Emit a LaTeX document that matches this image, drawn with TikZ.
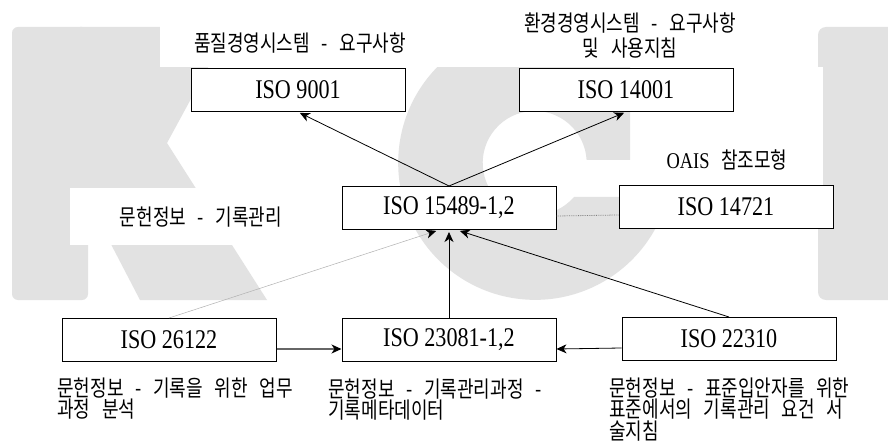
\documentclass[tikz,border=0pt]{standalone}
\usepackage{fontspec}
\setmainfont{Liberation Serif}
\newfontfamily\hangulfont[FakeStretch=0.8,WordSpace=2.9]{Noto Sans CJK KR}
\newfontfamily\latinfont[FakeStretch=0.82]{Liberation Serif}
\usetikzlibrary{arrows.meta}
\definecolor{wmark}{RGB}{226,226,226}

\tikzset{
  isobox/.style={draw, fill=white, line width=1pt, minimum width=214pt, minimum height=43pt, inner sep=0pt, font=\latinfont\fontsize{27}{27}\selectfont},
  desc/.style={inner sep=0pt, font=\hangulfont\fontsize{22.5}{22.5}\selectfont},
  mask/.style={fill=white},
}

\begin{document}
\begin{tikzpicture}[x=1pt, y=-1pt, >={Stealth[length=10pt,width=9pt,inset=3pt]}, line width=0.8pt]
\clip (0,0) rectangle (888,446);
\fill[white] (0,0) rectangle (888,446);
% KCI
\fill[wmark, rounded corners=6pt] (12,27) rectangle (88,300);
\fill[wmark] (80,27) -- (230,27) -- (167,143) -- (267,300) -- (140,300) -- (88,200) -- (80,200) -- cycle;
\fill[wmark] (630,64) arc[start angle=-46.2, end angle=-335.9, radius=137] -- (660,197) -- (574,197) arc[start angle=40.9, end angle=356.7, radius=52] -- (630,160) -- cycle;
\fill[wmark, rounded corners=8pt] (818,27) rectangle (900,300);
\fill[mask] (160,10) rectangle (440,67);
\fill[mask] (440,0) rectangle (818,67);
\fill[mask] (635,67) rectangle (823,185);
\fill[mask] (70,188) rectangle (300,245);

\node[isobox] (iso9001) at (298,90) {ISO 9001};
\node[isobox] (iso14001) at (626,90) {ISO 14001};
\node[isobox] (iso15489) at (449,208) {ISO 15489-1,2};
\node[isobox] (iso14721) at (726,207) {ISO 14721};
\node[isobox] (iso26122) at (169,340) {ISO 26122};
\node[isobox] (iso23081) at (449,340) {ISO 23081-1,2};
\node[isobox] (iso22310) at (729,339) {ISO 22310};

\node[desc] (lab9001) at (300,43) {품질경영시스템 - 요구사항};
\node[desc, align=center, font=\hangulfont\fontsize{22.5}{25}\selectfont] (lab14001) at (630,35) {환경경영시스템 - 요구사항\\및 사용지침};
\node[desc] (lab14721) at (727,160) {{\latinfont OAIS} 참조모형};
\node[desc] (lab15489) at (201,217) {문헌정보 - 기록관리};
\node[desc, align=left, anchor=north west, font=\hangulfont\fontsize{22.5}{21.5}\selectfont] (lab26122) at (57,377) {문헌정보 - 기록을 위한 업무\\과정 분석};
\node[desc, align=left, anchor=north west, font=\hangulfont\fontsize{22.5}{21.5}\selectfont] (lab23081) at (328,378) {문헌정보 - 기록관리과정 -\\기록메타데이터};
\node[desc, align=left, anchor=north west, font=\hangulfont\fontsize{22.5}{21.5}\selectfont] (lab22310) at (609,377) {문헌정보 - 표준입안자를 위한\\표준에서의 기록관리 요건 서\\술지침};

\draw[->, shorten >=2pt] (iso15489.north) -- (iso9001.south);
\draw[->, shorten >=2pt] (iso15489.north) -- (iso14001.south);
\draw[densely dotted, gray] ([yshift=-8pt]iso15489.east) -- ([yshift=-8pt]iso14721.west);
\draw[-{Stealth[length=10pt,width=9pt,inset=3pt,color=black]}, gray!60, line width=0.5pt, shorten >=3pt] (iso26122.north) -- ([xshift=-10pt]iso15489.south);
\draw[->, shorten >=2pt] (iso23081.north) -- (iso15489.south);
\draw[->, shorten >=3pt] (iso22310.north) -- ([xshift=8pt]iso15489.south);
\draw[-{Stealth[length=10pt,width=9pt,inset=3pt,color=black]}, gray!80!black, line width=1.2pt] ([yshift=-9pt]iso26122.east) -- ([yshift=-9pt]iso23081.west);
\draw[->] ([yshift=-9pt]iso22310.west) -- ([yshift=-9pt]iso23081.east);
\end{tikzpicture}
\end{document}
